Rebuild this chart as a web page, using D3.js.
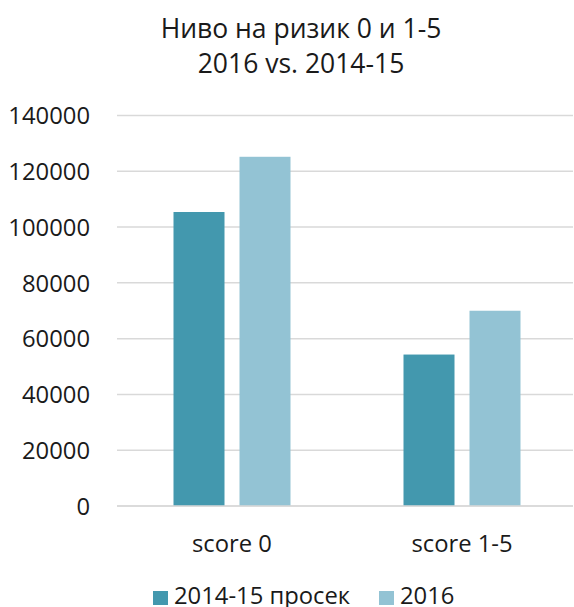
<!DOCTYPE html>
<html><head><meta charset="utf-8">
<script src="https://cdn.jsdelivr.net/npm/d3@7"></script>
<style>body{margin:0;background:#fff}svg{display:block}</style>
</head><body>
<script>
const titleLines = ["Ниво на ризик 0 и 1-5", "2016 vs. 2014-15"];
const categories = ["score 0", "score 1-5"];
const seriesNames = ["2014-15 просек", "2016"];
const seriesAvg = [105400, 54300];
const series2016 = [125200, 70000];
const yTicks = [0, 20000, 40000, 60000, 80000, 100000, 120000, 140000];
const colors = ["#4398AE", "#93C3D4"];

const W = 574, H = 607;
const font = "'Open Sans', sans-serif";
const svg = d3.select("body").append("svg").attr("width", W).attr("height", H);

const y = d3.scaleLinear().domain([0, 140000]).range([506, 115.5]);
const x0 = d3.scaleBand().domain(categories).range([117, 577]).padding(0);
const x1 = d3.scaleBand().domain(seriesNames).range([0, 117]).paddingInner(15/66).paddingOuter(0);
const gridRight = 573;

// title
svg.append("g").selectAll("text").data(titleLines).join("text")
  .attr("x", 301).attr("y", (d, i) => 38 + i * 35)
  .attr("text-anchor", "middle").attr("font-family", font).attr("font-size", 26.5)
  .attr("fill", "#1a1a1a").text(d => d);

// gridlines
svg.append("g").selectAll("line").data(yTicks).join("line")
  .attr("x1", 117).attr("x2", gridRight)
  .attr("y1", d => y(d)).attr("y2", d => y(d))
  .attr("stroke", "#d9d9d9").attr("stroke-width", 1.5);

// y axis labels
const yAxis = d3.axisLeft(y).tickValues(yTicks).tickSize(0).tickPadding(0).tickFormat(d3.format("d"));
const ga = svg.append("g").attr("transform", "translate(90,0)").call(yAxis);
ga.select(".domain").remove();
ga.selectAll("text").attr("font-family", font).attr("font-size", 23.8).attr("fill", "#1a1a1a").attr("dy", "0.35em");

// bars
const data = categories.map((c, i) => ({cat: c, vals: [seriesAvg[i], series2016[i]]}));
const groups = svg.append("g").selectAll("g").data(data).join("g")
  .attr("transform", d => `translate(${x0(d.cat) + (x0.bandwidth() - 117) / 2},0)`);
groups.selectAll("rect").data(d => d.vals.map((v, j) => ({s: seriesNames[j], v, j}))).join("rect")
  .attr("x", d => x1(d.s)).attr("width", x1.bandwidth())
  .attr("y", d => y(d.v)).attr("height", d => y(0) - y(d.v))
  .attr("fill", d => colors[d.j]);

// x axis line
svg.append("line").attr("x1", 117).attr("x2", gridRight).attr("y1", y(0)).attr("y2", y(0))
  .attr("stroke", "#d9d9d9").attr("stroke-width", 1.5);

// x labels
const xAxis = d3.axisBottom(x0).tickSize(0).tickPadding(0);
const gx = svg.append("g").attr("transform", "translate(0,552)").call(xAxis);
gx.select(".domain").remove();
gx.selectAll("text").attr("font-family", font).attr("font-size", 23.8).attr("fill", "#1a1a1a").attr("dy", 0).attr("y", 0);

// legend
const legendX = [153, 379];
const lg = svg.append("g").selectAll("g").data(seriesNames).join("g")
  .attr("transform", (d, i) => `translate(${legendX[i]},0)`);
lg.append("rect").attr("x", 0).attr("y", 591).attr("width", 15).attr("height", 14).attr("fill", (d, i) => colors[i]);
lg.append("text").attr("x", 21).attr("y", 604).attr("font-family", font).attr("font-size", 23.8)
  .attr("fill", "#1a1a1a").text(d => d);
</script>
</body></html>
